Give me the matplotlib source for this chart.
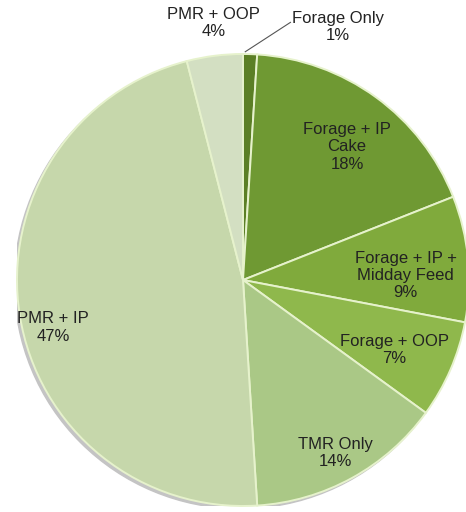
import matplotlib.pyplot as plt

labels = ["Forage Only", "Forage + IP\nCake", "Forage + IP +\nMidday Feed",
          "Forage + OOP", "TMR Only", "PMR + IP", "PMR + OOP"]
values = [1, 18, 9, 7, 14, 47, 4]
colors = ["#5b7f25", "#6f9933", "#80aa3c", "#8fb84c", "#aac886", "#c6d7ab", "#d3dfc2"]

# label positions (x, y) in pie units, radius = 1
label_pos = [(0.42, 1.12), (0.46, 0.59), (0.72, 0.02), (0.67, -0.31),
             (0.41, -0.765), (-0.84, -0.21), (-0.13, 1.137)]

plt.rcParams['font.family'] = ['Liberation Sans', 'DejaVu Sans']

fig = plt.figure(figsize=(4.66, 5.12), dpi=100)
cx, cy, r = 243, 280, 226
ax = fig.add_axes([(cx - r) / 466, (512 - cy - r) / 512, 2 * r / 466, 2 * r / 512])

# soft shadow
shadow = plt.Circle((-0.012, -0.012), 1.0, color="#c4c4c4", zorder=0)
ax.add_patch(shadow)

wedges, _ = ax.pie(values, colors=colors, startangle=90, counterclock=False,
                   radius=1.0,
                   wedgeprops=dict(edgecolor="#e6f2cc", linewidth=1.4))

for lab, v, (x, y) in zip(labels, values, label_pos):
    ax.text(x, y, f"{lab}\n{v}%", ha="center", va="center",
            fontsize=12, color="#222222", linespacing=1.2)

# leader line for Forage Only
ax.plot([0.01, 0.21], [1.01, 1.14], color="#555555", lw=0.8, clip_on=False)

ax.set_xlim(-1, 1)
ax.set_ylim(-1, 1)
ax.set_aspect("equal")
ax.axis("off")

fig.savefig("out.png", dpi=100)
